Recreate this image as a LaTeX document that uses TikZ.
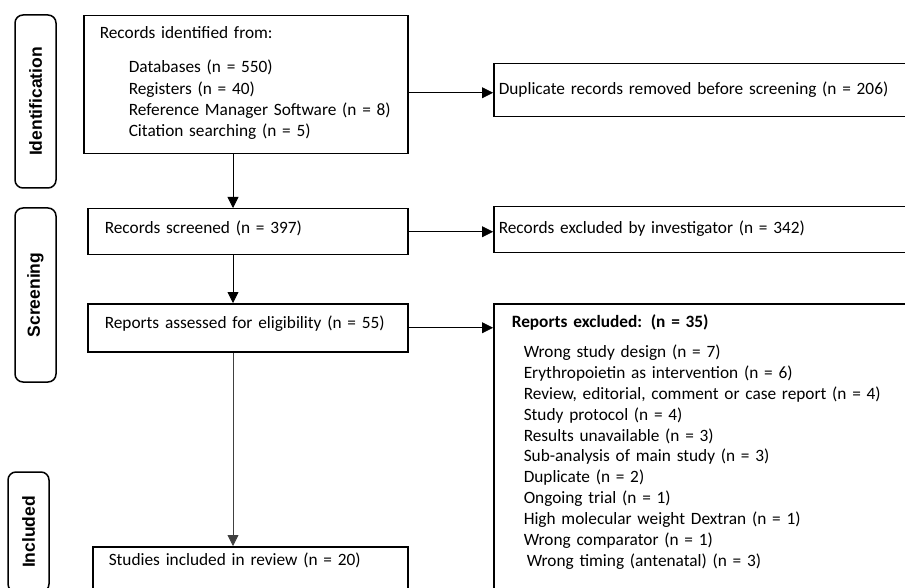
\documentclass[tikz,border=0pt]{standalone}
\usepackage{fontspec}
\setmainfont{Carlito}
\newfontfamily\phasefont{Liberation Sans}
\usetikzlibrary{arrows.meta}

\begin{document}
\begin{tikzpicture}[
        x=1pt,y=-1pt,
        box/.style={draw,line width=1.5pt,anchor=north west,align=left,inner ysep=0pt,
          font=\fontsize{17.3}{21.3}\selectfont},
        phase/.style={draw,line width=1.5pt,rounded corners=8pt,rotate=90,minimum height=41pt,
          inner sep=0pt,font=\phasefont\bfseries\fontsize{17.5}{20}\selectfont},
        link/.style={-{Triangle[length=11pt,width=11pt]},line width=0.8pt},
      ]
      \useasboundingbox (0,0) rectangle (905,588);
      \clip (0,0) rectangle (905,588);
      % Phase labels
      \node[phase,minimum width=173pt] (identlbl) at (35.5,101.5) {Identification};
      \node[phase,minimum width=174pt] (screenlbl) at (35.5,295) {Screening};
      \node[phase,minimum width=120pt] (inclbl) at (28.5,532) {Included};
      % Main column
      \node[box,inner xsep=16pt,text width=292pt,text height=23pt,text depth=115pt] (ident) at (83,15)
        {Records identified from:\\[12.7pt]
         \hspace*{29pt}Databases (n = 550)\\
         \hspace*{29pt}Registers (n = 40)\\
         \hspace*{29pt}Reference Manager Software (n = 8)\\
         \hspace*{29pt}Citation searching (n = 5)};
      \node[box,inner xsep=17pt,text width=286pt,text height=25pt,text depth=21pt] (screened) at (87,208)
        {Records screened (n = 397)};
      \node[box,inner xsep=17pt,text width=286pt,text height=25pt,text depth=23pt] (assessed) at (87,303)
        {Reports assessed for eligibility (n = 55)};
      \node[box,inner xsep=16pt,text width=283pt,text height=19pt,text depth=60pt] (studies) at (92,546)
        {Studies included in review (n = 20)};
      % Exclusions
      \node[box,inner xsep=5pt,text width=447pt,text height=31pt,text depth=22pt] (dup) at (493,63)
        {Duplicate records removed before screening (n = 206)};
      \node[box,inner xsep=5pt,text width=447pt,text height=27pt,text depth=19pt] (excl) at (493,206)
        {Records excluded by investigator (n = 342)};
      \node[box,inner xsep=18pt,text width=421pt,text height=24pt,text depth=293pt,
          font=\fontsize{17.3}{20.85}\selectfont] (reports) at (493,303)
        {\textbf{Reports excluded: (n = 35)}\\[9pt]
         \hspace*{12pt}Wrong study design (n = 7)\\
         \hspace*{12pt}Erythropoietin as intervention (n = 6)\\
         \hspace*{12pt}Review, editorial, comment or case report (n = 4)\\
         \hspace*{12pt}Study protocol (n = 4)\\
         \hspace*{12pt}Results unavailable (n = 3)\\
         \hspace*{12pt}Sub-analysis of main study (n = 3)\\
         \hspace*{12pt}Duplicate (n = 2)\\
         \hspace*{12pt}Ongoing trial (n = 1)\\
         \hspace*{12pt}High molecular weight Dextran (n = 1)\\
         \hspace*{12pt}Wrong comparator (n = 1)\\
         \hspace*{15pt}Wrong timing (antenatal) (n = 3)};
      % Connectors
      \coordinate (spine) at (233,0);
      \draw[link] (spine |- ident.south) -- (spine |- screened.north);
      \draw[link] (spine |- screened.south) -- (spine |- assessed.north);
      \draw[link,black!75] (spine |- assessed.south) -- (spine |- studies.north);
      \draw[link] ([yshift=-2.5pt]ident.east |- dup.west) -- ([yshift=-2.5pt]dup.west);
      \draw[link] (screened.east) -- (screened.east -| excl.west);
      \draw[link] (assessed.east) -- (assessed.east -| reports.west);
    \end{tikzpicture}
\end{document}
